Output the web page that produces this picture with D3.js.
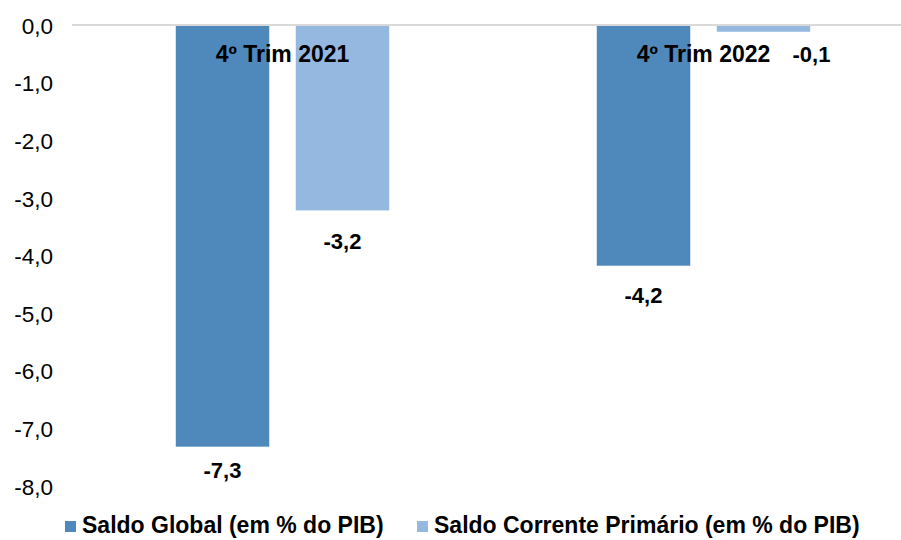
<!DOCTYPE html>
<html><head><meta charset="utf-8">
<script src="https://cdn.jsdelivr.net/npm/d3@7"></script>
<style>body{margin:0;background:#fff}svg{display:block;font-family:"Liberation Sans",Arial,sans-serif}</style>
</head><body><svg id="c" width="901" height="540"></svg>
<script>
const categories = ["4º Trim 2021", "4º Trim 2022"];
const seriesNames = ["Saldo Global (em % do PIB)", "Saldo Corrente Primário (em % do PIB)"];
const saldoGlobal = [-7.3, -4.16];
const saldoCorrentePrimario = [-3.2, -0.1];
const yTicks = [0, -1, -2, -3, -4, -5, -6, -7, -8];
const colors = ["#4f88bb", "#95b8e0"];

const values = [saldoGlobal, saldoCorrentePrimario];
const svg = d3.select("#c");
const fmt = v => d3.format(".1f")(v).replace(".", ",").replace("−", "-");

const x0 = d3.scaleBand().domain(categories).range([72, 914]);
const x1 = d3.scaleBand().domain(seriesNames).range([0, x0.bandwidth()]).paddingInner(0.221).paddingOuter(0.865);
const y = d3.scaleLinear().domain([0, -8]).range([26, 487]);

// y axis labels
const ax = svg.append("g").attr("transform", "translate(53,0)")
  .call(d3.axisLeft(y).tickValues(yTicks).tickSize(0).tickPadding(0).tickFormat(fmt));
ax.select(".domain").remove();
ax.selectAll("text").attr("font-size", 22.5).attr("fill", "#000").attr("font-family", "Liberation Sans, Arial, sans-serif");

// bars
seriesNames.forEach((s, si) => {
  svg.append("g").selectAll("rect").data(categories).join("rect")
    .attr("x", c => x0(c) + x1(s))
    .attr("width", x1.bandwidth())
    .attr("y", y(0))
    .attr("height", (c, i) => y(values[si][i]) - y(0))
    .attr("fill", colors[si]);
});

// zero line
svg.append("line").attr("x1", 72).attr("x2", 901).attr("y1", y(0) - 1).attr("y2", y(0) - 1)
  .attr("stroke", "#d9d9d9").attr("stroke-width", 2);

// category labels
svg.append("g").selectAll("text").data(categories).join("text")
  .attr("x", c => x0(c) + x0.bandwidth() / 2)
  .attr("y", y(0) + 36)
  .attr("text-anchor", "middle").attr("font-size", 23).attr("font-weight", "bold")
  .text(c => c);

// value labels (dx, dy from bar end)
const labelOffsets = [[[0, 31], [0, 37]], [[0, 39], [48, 30]]];
seriesNames.forEach((s, si) => {
  svg.append("g").selectAll("text").data(categories).join("text")
    .attr("x", (c, i) => x0(c) + x1(s) + x1.bandwidth() / 2 + labelOffsets[si][i][0])
    .attr("y", (c, i) => y(values[si][i]) + labelOffsets[si][i][1])
    .attr("text-anchor", "middle").attr("font-size", 22).attr("font-weight", "bold")
    .text((c, i) => fmt(values[si][i]));
});

// legend
const legX = [65, 417];
const lg = svg.append("g");
seriesNames.forEach((s, si) => {
  lg.append("rect").attr("x", legX[si]).attr("y", 521).attr("width", 11).attr("height", 11).attr("fill", colors[si]);
  lg.append("text").attr("x", legX[si] + 17).attr("y", 533).attr("font-size", 23).attr("font-weight", "bold").text(s);
});
</script></body></html>
